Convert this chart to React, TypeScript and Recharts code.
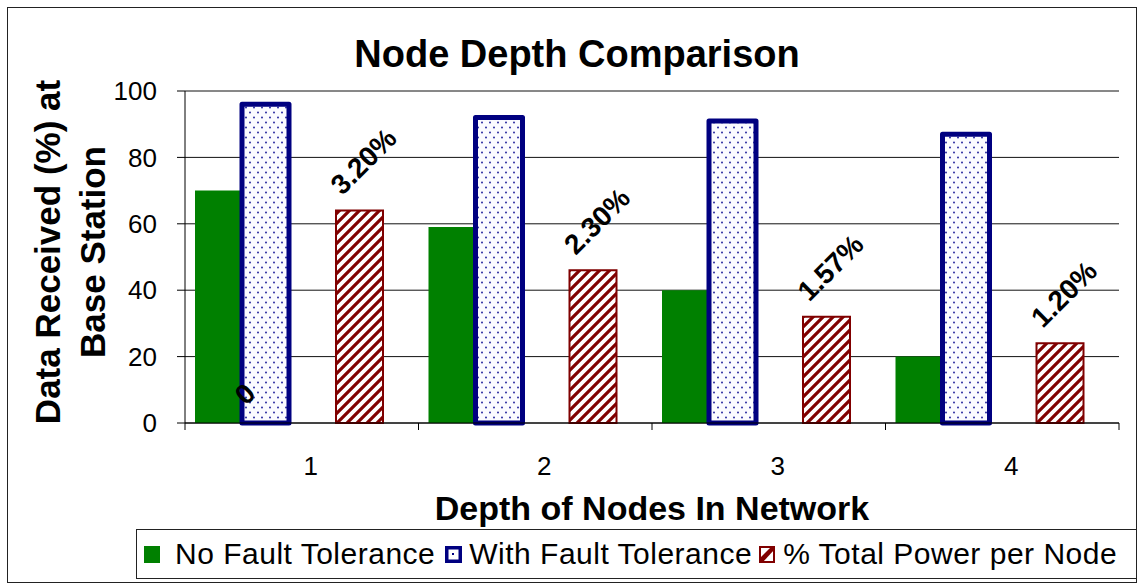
import React from 'react';
import { BarChart, Bar, XAxis, YAxis, CartesianGrid, Legend, LabelList } from 'recharts';

const depths = ['1', '2', '3', '4'];
const noFaultTolerance = [70, 59, 40, 20];
const withFaultTolerance = [96, 92, 91, 87];
const totalPower = [64, 46, 32, 24];
const powerLabels = ['3.20%', '2.30%', '1.57%', '1.20%'];
const zeroNotes = ['0', '', '', ''];
const yTicks = [0, 20, 40, 60, 80, 100];

const data = depths.map((depth, i) => ({
    depth,
    noFT: noFaultTolerance[i],
    withFT: withFaultTolerance[i],
    power: totalPower[i],
    powerLabel: powerLabels[i],
    note: zeroNotes[i],
}));

const FONT = '"Liberation Sans", Arial, Helvetica, sans-serif';
// the plot's categories sit a little to the right of the frame in the original
const SHIFT = 10;

const DepthTick = (props: any) => {
    const { x, y, payload, index } = props;
    const half = payload && payload.offset ? payload.offset : 0;
    const left = x - half - SHIFT;
    const right = x + half - SHIFT;
    return (
        <g>
            <line x1={left} x2={left} y1={y} y2={y + 7} stroke="#000" />
            {index === depths.length - 1 && <line x1={right} x2={right} y1={y} y2={y + 7} stroke="#000" />}
            <text x={x - 1} y={y + 52} textAnchor="middle" fontSize={26} fill="#000">{payload.value}</text>
        </g>
    );
};

const PowerLabel = (props: any) => {
    const { x, y, width, value } = props;
    if (!value) return null;
    const cx = x + width / 2 + 4;
    const cy = y - 49;
    return (
        <text x={cx} y={cy} transform={`rotate(-45 ${cx} ${cy})`} textAnchor="middle" dominantBaseline="central"
            fontSize={28} fontWeight="bold" fill="#000">{value}</text>
    );
};

const ZeroLabel = (props: any) => {
    const { x, y, width, height, value } = props;
    if (!value) return null;
    const cx = x + width + 3;
    const cy = y + height - 29;
    return (
        <text x={cx} y={cy} transform={`rotate(-45 ${cx} ${cy})`} textAnchor="middle" dominantBaseline="central"
            fontSize={28} fontWeight="bold" fill="#000">{value}</text>
    );
};

const YTitle = (props: any) => {
    const { viewBox } = props;
    const cy = viewBox.y + viewBox.height / 2 - 5;
    return (
        <g fontSize={35} fontWeight="bold" fill="#000">
            <text x={60} y={cy} transform={`rotate(-90 60 ${cy})`} textAnchor="middle">Data Received (%) at</text>
            <text x={105} y={cy} transform={`rotate(-90 105 ${cy})`} textAnchor="middle">Base Station</text>
        </g>
    );
};

const XTitle = (props: any) => {
    const { viewBox } = props;
    return (
        <text x={viewBox.x + viewBox.width / 2} y={viewBox.y + 97} textAnchor="middle" fontSize={34} fontWeight="bold" fill="#000">
            Depth of Nodes In Network
        </text>
    );
};

const LegendBox = () => (
    <div style={{
        boxSizing: 'border-box', height: 50, border: '1px solid #222', display: 'flex', alignItems: 'center',
        fontSize: 30, letterSpacing: 0.5, color: '#000', fontFamily: FONT, whiteSpace: 'nowrap', background: '#fff',
    }}>
        <svg width={16} height={17} style={{ marginLeft: 7 }}><rect x={0} y={0} width={16} height={17} fill="#008000" /></svg>
        <span style={{ marginLeft: 15 }}>No Fault Tolerance</span>
        <svg width={17} height={17} style={{ marginLeft: 10 }}>
            <rect x={1.5} y={1.5} width={14} height={14} fill="#fff" stroke="#000080" strokeWidth={4} />
            <rect x={7} y={7} width={2} height={2} fill="#000080" />
        </svg>
        <span style={{ marginLeft: 7 }}>With Fault Tolerance</span>
        <svg width={16} height={17} style={{ marginLeft: 7 }}>
            <rect x={1} y={1} width={14} height={15} fill="#fff" stroke="#800000" strokeWidth={2} />
            <path d="M1,12 L12,1 L15,1 L15,4 L4,16 L1,16 Z" fill="#800000" />
        </svg>
        <span style={{ marginLeft: 8 }}>% Total Power per Node</span>
    </div>
);

export default function App() {
    return (
        <div style={{ position: 'relative', width: 1139, height: 584, fontFamily: FONT, background: '#fff' }}>
            <style>{'body{margin:0}'}</style>
            <BarChart width={1139} height={584} data={data} margin={{ top: 91, right: 20, bottom: 5, left: 0 }}
                barCategoryGap={0} barGap={0}>
                <CartesianGrid vertical={false} stroke="#111" />
                <XAxis dataKey="depth" padding={{ left: SHIFT, right: -SHIFT }} height={106} interval={0}
                    axisLine={{ stroke: '#000' }} tickLine={false} tickSize={0} tickMargin={0}
                    tick={<DepthTick />} label={<XTitle />} />
                <XAxis xAxisId="top" orientation="top" dataKey="depth" height={0} tick={false} tickLine={false}
                    axisLine={{ stroke: '#808080', strokeWidth: 2 }} />
                <YAxis width={185} domain={[0, 100]} ticks={yTicks} interval={0} tickSize={8} tickMargin={20}
                    axisLine={{ stroke: '#000' }} tickLine={{ stroke: '#000' }}
                    tick={{ fontSize: 26, fill: '#000' }} label={<YTitle />} />
                <YAxis yAxisId="right" orientation="right" width={0} domain={[0, 100]} tick={false} tickLine={false}
                    axisLine={{ stroke: '#606060', strokeWidth: 2 }} />
                <Bar dataKey="noFT" name="No Fault Tolerance" fill="#008000" isAnimationActive={false}>
                    <LabelList dataKey="note" content={<ZeroLabel />} />
                </Bar>
                <Bar dataKey="withFT" name="With Fault Tolerance" fill="url(#dots)" stroke="#000080" strokeWidth={5}
                    strokeLinejoin="round" isAnimationActive={false} />
                <Bar dataKey="gapA" legendType="none" isAnimationActive={false} />
                <Bar dataKey="power" name="% Total Power per Node" fill="url(#stripes)" stroke="#800000" strokeWidth={2}
                    isAnimationActive={false}>
                    <LabelList dataKey="powerLabel" content={<PowerLabel />} />
                </Bar>
                <Bar dataKey="gapB" legendType="none" isAnimationActive={false} />
                <Legend verticalAlign="bottom" content={<LegendBox />}
                    wrapperStyle={{ left: 136, width: 1001, bottom: 5 }} />
            </BarChart>
            <svg width={1139} height={584} style={{ position: 'absolute', left: 0, top: 0, pointerEvents: 'none' }}>
                <defs>
                    <pattern id="dots" patternUnits="userSpaceOnUse" width={8} height={10}>
                        <rect width={8} height={10} fill="#fbfbff" />
                        <circle cx={2} cy={2.5} r={1} fill="#2a2aa0" />
                        <circle cx={6} cy={7.5} r={1} fill="#2a2aa0" />
                    </pattern>
                    <pattern id="stripes" patternUnits="userSpaceOnUse" width={10} height={10}>
                        <rect width={10} height={10} fill="#fff" />
                        <path d="M-2,2 L2,-2 M0,10 L10,0 M8,12 L12,8" stroke="#800000" strokeWidth={3.2} />
                    </pattern>
                </defs>
                <rect x={7.5} y={7.5} width={1129} height={575} fill="none" stroke="#222" />
                <text x={577} y={67} textAnchor="middle" fontSize={38} fontWeight="bold" fill="#000">Node Depth Comparison</text>
            </svg>
        </div>
    );
}
